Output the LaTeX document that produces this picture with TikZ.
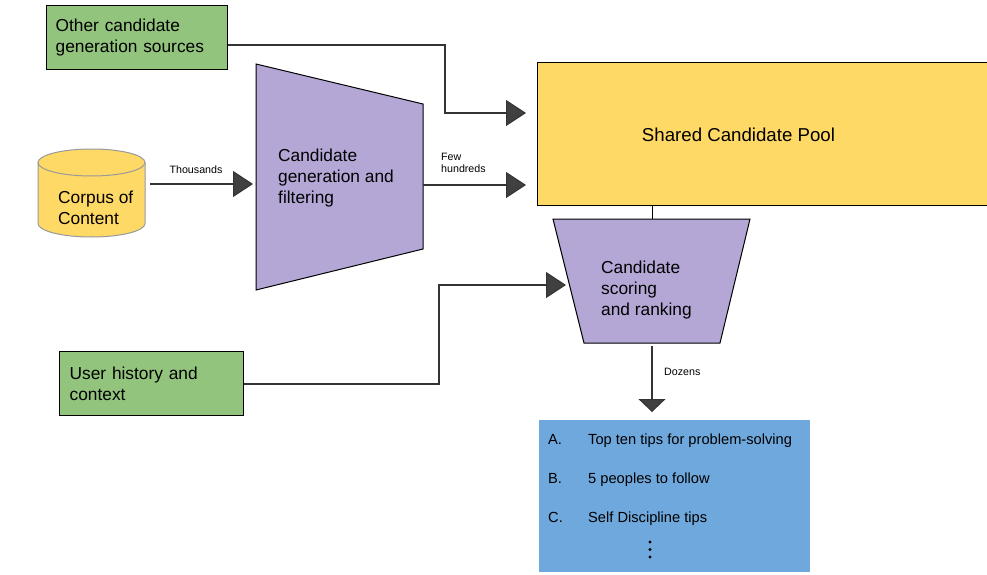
\documentclass[tikz,border=0pt]{standalone}
\usepackage{fontspec}
\setmainfont{Liberation Sans}
\usetikzlibrary{arrows.meta,calc}
\definecolor{gfill}{HTML}{93C47D}
\definecolor{yfill}{HTML}{FFD966}
\definecolor{pfill}{HTML}{B4A7D6}
\definecolor{bfill}{HTML}{6FA8DC}
\definecolor{linec}{HTML}{333333}
\definecolor{tipc}{HTML}{404040}
\definecolor{cylb}{HTML}{999999}
\begin{document}
\begin{tikzpicture}[x=1pt,y=-1pt,
  lbl/.style={font=\fontsize{17.33}{21}\selectfont, align=left, inner sep=0pt, anchor=west},
  small/.style={font=\fontsize{10.67}{12}\selectfont, align=left, inner sep=0pt},
  item/.style={font=\fontsize{14.67}{17}\selectfont, inner sep=0pt, anchor=base west},
  srcbox/.style={draw=black, line width=1.3pt, fill=gfill, anchor=north west, inner xsep=9pt, inner ysep=0pt, align=left, font=\fontsize{17.33}{21.5}\selectfont},
  trap/.style={draw=black, line width=1pt, fill=pfill},
  conn/.style={draw=linec, line width=2pt, -{Triangle[length=20pt,width=26pt,fill=tipc,line width=1pt]}},
  connd/.style={draw=linec, line width=2pt, -{Triangle[length=13pt,width=27pt,fill=tipc,line width=1pt]}},
]
\useasboundingbox (0,0) rectangle (987,575);

% source boxes
\node[srcbox, minimum width=181pt, minimum height=64pt, text width=163pt] (oc) at (46,5) {Other candidate\\generation sources};
\node[srcbox, minimum width=184pt, minimum height=64pt, text width=164pt, inner xsep=10pt] (uh) at (59,351) {User history and\\context};

% cylinder
\path[fill=yfill, draw=cylb, line width=1pt] (38,162.5) -- (38,223.5) arc[start angle=180, end angle=0, x radius=53.5, y radius=13.5] -- (145,162.5) -- cycle;
\path[fill=yfill, draw=cylb, line width=1pt] (91.5,162.5) ellipse[x radius=53.5, y radius=13.5];
\node[minimum width=107pt, minimum height=88pt, inner sep=0pt] (corpus) at (91.5,193) {};
\node[lbl] (corpustext) at (58,208) {Corpus of\\Content};

% candidate generation trapezoid
\draw[trap] (256,64) -- (423,104) -- (423,249) -- (256,290) -- cycle;
\node[lbl] (cg) at (278,178) {Candidate\\generation and\\filtering};
\coordinate (cgL) at (256,184);
\coordinate (cgR) at (423,185);

% shared pool
\node[draw=black, line width=1.3pt, fill=yfill, anchor=north west, minimum width=460pt, minimum height=143pt, inner sep=0pt] (pool) at (537,62) {};
\node[font=\fontsize{18.67}{22}\selectfont, inner sep=0pt] (pooltext) at (738.5,135) {Shared Candidate Pool};

% scoring trapezoid
\draw[trap] (553,219) -- (750,219) -- (720,343) -- (584,343) -- cycle;
\node[lbl] (cs) at (601,290) {Candidate\\scoring\\and ranking};
\coordinate (csT) at (652,219);
\coordinate (csB) at (652,346);
\coordinate (csL) at (566,285);

% result list
\node[fill=bfill, anchor=north west, minimum width=271pt, minimum height=152pt, inner sep=0pt] (list) at (539,420) {};
\node[item] (la) at (548,444.5) {A.};
\node[item] (ta) at (588,444.5) {Top ten tips for problem-solving};
\node[item] (lb) at (548,483.5) {B.};
\node[item] (tb) at (588,483.5) {5 peoples to follow};
\node[item] (lc) at (548,522.5) {C.};
\node[item] (tc) at (588,522.5) {Self Discipline tips};
\fill[black] (650,542) circle[radius=1.6pt] (650,549.5) circle[radius=1.6pt] (650,557) circle[radius=1.6pt];

% connectors
\coordinate (b1) at (445,113);
\coordinate (p1) at (526,113);
\coordinate (p2) at (526,185);
\draw[conn] ([yshift=-7pt]oc.east) -| (b1) -- (p1);
\draw[conn] (cgR) -- (p2);
\draw[conn] ([xshift=5pt,yshift=9pt]corpus.east) -- ($(cgL)+(-3,0)$);
\coordinate (b2) at (439,384);
\draw[conn] (uh.east |- b2) -- (b2) |- (csL);
\draw[line width=1pt, draw=black] (pool.south -| csT) -- (csT);
\draw[connd] (csB) -- (652,412);

% labels
\node[small] (thousands) at (196,170) {Thousands};
\node[small, anchor=north west] (few) at (441,153) {Few\\hundreds};
\node[small, anchor=west] (dozens) at (664,372) {Dozens};
\end{tikzpicture}
\end{document}
